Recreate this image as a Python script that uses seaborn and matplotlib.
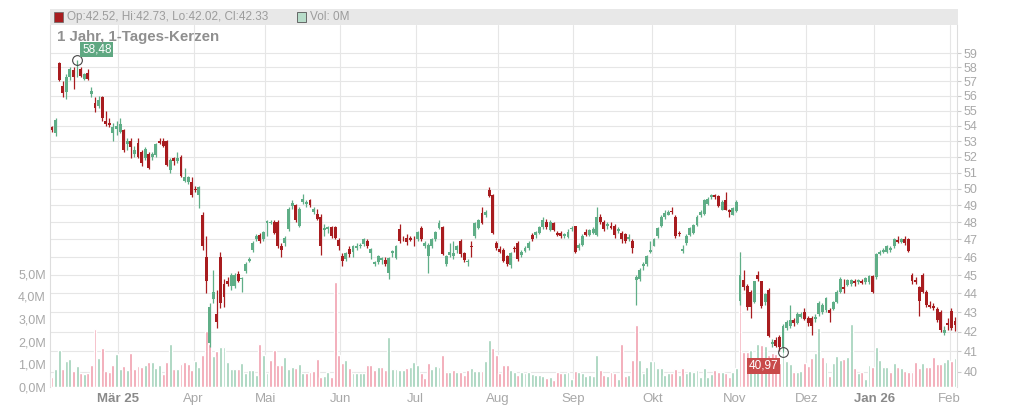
import numpy as np
import pandas as pd
import matplotlib
matplotlib.use("Agg")
import matplotlib.pyplot as plt
from matplotlib.patches import Rectangle
import seaborn as sns

sns.set_theme(style="white")
plt.rcParams['font.family'] = ['Liberation Sans', 'DejaVu Sans']

# trading days (Xetra holidays removed)
holidays = ['2025-04-18', '2025-04-21', '2025-05-01', '2025-12-24',
            '2025-12-25', '2025-12-26', '2025-12-31', '2026-01-01']
days = pd.bdate_range('2025-02-04', '2026-02-03')
days = days[~days.isin(pd.to_datetime(holidays))]

opens = [
    53.9, 53.5, 58.3, 56.7, 56.3, 57.3, 57.8, 57.7, 57.9, 57.2,
    57.6, 56.15, 55.5, 55.3, 55.9, 54.3, 54.2, 53.5, 53.8, 53.6,
    53.7, 52.8, 53.0, 52.2, 52.9, 52.3, 51.9, 52.2, 52.0, 52.1,
    53.0, 53.0, 53.0, 51.15, 51.9, 51.7, 52.0, 50.5, 50.4, 50.4,
    50.0, 49.6, 48.4, 46.0, 41.4, 43.7, 42.9, 46.0, 44.5, 44.7,
    44.4, 44.4, 45.05, 44.8, 45.2, 45.8, 46.4, 47.0, 47.25, 47.0,
    47.95, 47.98, 48.0, 48.0, 46.65, 46.8, 47.6, 48.95, 49.0, 47.8,
    49.2, 49.1, 49.3, 48.6, 48.5, 48.3, 47.55, 47.6, 47.7, 47.7,
    46.95, 46.05, 45.9, 46.45, 46.3, 46.5, 46.6, 46.75, 46.9, 46.2,
    45.6, 45.75, 45.85, 45.85, 45.1, 46.25, 45.95, 47.6, 47.05, 47.1,
    47.1, 47.05, 47.0, 47.65, 46.65, 46.05, 46.65, 47.0, 47.65, 47.7,
    45.6, 46.1, 46.05, 46.4, 46.9, 46.2, 45.75, 46.62, 47.2, 47.65,
    48.55, 48.4, 49.95, 49.6, 46.8, 46.45, 46.4, 46.05, 45.55, 46.52,
    46.8, 46.1, 46.35, 46.5, 47.25, 47.25, 47.35, 47.7, 48.0, 47.55,
    47.95, 47.4, 47.35, 47.2, 47.15, 47.6, 47.75, 46.5, 46.7, 47.45,
    47.25, 47.35, 47.25, 48.3, 48.0, 47.8, 47.8, 47.8, 47.5, 47.4,
    47.3, 47.05, 46.9, 44.75, 44.8, 45.5, 45.6, 46.3, 46.65, 47.2,
    47.8, 48.3, 48.45, 48.65, 48.3, 47.38, 46.35, 46.8, 47.25, 47.35,
    47.85, 48.4, 48.5, 49.1, 49.5, 49.6, 49.55, 48.75, 49.3, 48.7,
    48.45, 48.65, 43.6, 44.75, 44.4, 44.1, 43.55, 45.0, 44.65, 43.55,
    44.2, 41.35, 41.55, 41.7, 41.2, 42.2, 42.3, 42.6, 42.45, 42.75,
    43.0, 42.7, 42.7, 42.65, 42.9, 43.0, 43.1, 43.1, 43.15, 43.55,
    44.1, 44.35, 44.45, 44.5, 44.65, 44.6, 44.65, 44.6, 44.6, 44.95,
    44.9, 46.15, 46.3, 46.3, 46.4, 46.6, 46.95, 46.85, 47.05, 47.0,
    45.0, 44.75, 44.35, 45.0, 44.1, 43.4, 43.35, 43.15, 43.0, 41.95,
    42.45, 43.05, 42.52]

highs = [
    54.0, 54.5, 58.4, 57.0, 57.5, 58.0, 58.0, 58.48, 58.0, 57.6,
    57.9, 56.6, 55.9, 56.0, 56.0, 55.0, 54.5, 54.2, 54.3, 54.5,
    53.8, 53.2, 53.2, 52.7, 53.2, 52.4, 52.6, 52.3, 52.3, 52.9,
    53.2, 53.2, 53.1, 51.9, 52.0, 52.3, 52.1, 51.3, 50.8, 50.7,
    50.2, 50.2, 48.6, 47.2, 43.5, 45.3, 44.2, 46.3, 44.8, 44.9,
    45.1, 45.1, 45.2, 44.9, 45.7, 46.0, 46.9, 47.3, 47.4, 47.5,
    48.1, 48.1, 48.1, 48.1, 46.8, 47.2, 48.9, 49.3, 49.1, 48.9,
    49.7, 49.3, 49.4, 48.9, 48.8, 48.5, 47.9, 47.8, 47.8, 47.8,
    47.1, 46.2, 46.3, 46.6, 46.7, 46.8, 46.8, 47.1, 47.0, 46.5,
    45.8, 46.1, 46.0, 46.0, 46.0, 46.4, 46.7, 47.9, 47.2, 47.3,
    47.2, 47.2, 47.5, 47.8, 46.9, 46.8, 47.1, 47.5, 48.1, 47.8,
    46.1, 46.8, 46.9, 46.7, 47.0, 46.3, 45.9, 46.9, 48.0, 48.2,
    48.9, 48.7, 50.1, 49.7, 46.9, 46.6, 46.5, 46.1, 46.3, 46.6,
    46.9, 46.4, 46.6, 46.9, 47.4, 47.5, 47.8, 48.3, 48.2, 48.1,
    48.0, 47.5, 47.5, 47.4, 47.6, 47.8, 47.8, 46.8, 47.3, 47.6,
    47.6, 47.7, 48.9, 48.5, 48.1, 48.0, 48.0, 47.9, 47.7, 47.5,
    47.4, 47.3, 47.0, 45.0, 45.4, 45.7, 46.1, 46.9, 47.1, 47.7,
    48.4, 48.7, 48.7, 48.9, 48.4, 47.5, 46.7, 47.3, 47.7, 47.9,
    48.4, 48.7, 49.4, 49.5, 49.7, 49.7, 49.6, 49.3, 49.8, 48.8,
    48.9, 49.3, 46.3, 45.3, 44.5, 44.2, 44.7, 45.2, 44.7, 44.0,
    44.3, 41.6, 41.7, 41.8, 42.4, 42.6, 43.4, 42.7, 43.0, 43.0,
    43.2, 42.8, 42.8, 42.9, 43.6, 43.5, 43.8, 43.2, 43.6, 44.2,
    44.9, 44.8, 44.8, 44.8, 44.8, 44.8, 44.8, 44.9, 45.0, 45.0,
    46.2, 46.4, 46.5, 46.7, 46.6, 47.1, 47.2, 47.1, 47.2, 47.1,
    45.1, 44.9, 44.4, 45.1, 44.2, 43.6, 43.5, 43.3, 43.1, 42.3,
    42.7, 43.2, 42.73]

lows = [
    53.6, 53.3, 57.0, 55.9, 55.8, 57.1, 56.5, 57.3, 57.3, 57.1,
    57.1, 55.9, 54.9, 55.2, 54.3, 54.0, 53.9, 53.0, 53.4, 53.5,
    52.3, 52.4, 51.9, 52.0, 51.9, 51.4, 51.8, 51.2, 51.8, 52.0,
    52.8, 52.6, 51.4, 51.0, 51.5, 51.6, 50.7, 50.4, 50.3, 49.5,
    49.8, 48.85, 46.4, 44.0, 41.2, 43.5, 42.2, 43.2, 43.3, 44.4,
    44.2, 44.3, 44.6, 44.1, 45.1, 45.7, 46.3, 46.9, 46.8, 46.9,
    47.2, 47.9, 47.3, 46.5, 46.0, 46.6, 47.5, 48.8, 48.0, 47.7,
    49.1, 48.9, 48.9, 48.5, 48.1, 46.1, 47.2, 47.4, 47.1, 47.0,
    46.4, 45.5, 45.8, 46.0, 46.0, 46.4, 46.5, 46.6, 46.5, 45.9,
    45.5, 45.6, 45.6, 45.5, 44.8, 46.0, 45.9, 46.8, 46.9, 46.7,
    46.9, 46.6, 46.9, 46.9, 46.5, 45.1, 46.5, 46.9, 47.6, 46.1,
    45.5, 46.0, 45.9, 46.2, 46.0, 45.7, 45.5, 46.0, 47.1, 47.6,
    47.9, 48.3, 49.5, 47.3, 46.4, 46.2, 45.7, 45.5, 45.4, 46.3,
    45.8, 46.0, 46.3, 46.4, 46.9, 47.1, 47.3, 47.6, 47.6, 47.5,
    47.5, 47.2, 47.1, 47.1, 47.1, 47.5, 46.2, 46.4, 46.6, 47.2,
    47.2, 47.3, 47.2, 47.9, 47.5, 47.6, 47.6, 47.1, 47.4, 46.8,
    46.8, 46.9, 46.2, 43.4, 44.7, 45.3, 45.5, 46.2, 46.6, 47.1,
    47.7, 48.2, 48.4, 48.5, 47.1, 47.2, 46.2, 46.7, 47.2, 47.3,
    47.8, 48.3, 48.4, 49.0, 49.4, 49.4, 48.9, 48.7, 48.7, 48.3,
    48.4, 48.6, 43.4, 44.2, 43.1, 42.7, 43.5, 44.7, 43.2, 43.4,
    41.7, 41.2, 41.2, 41.0, 40.97, 42.1, 42.2, 42.3, 42.4, 42.7,
    42.6, 42.3, 41.8, 42.5, 42.8, 42.9, 43.0, 42.5, 43.1, 43.5,
    44.0, 44.0, 44.4, 44.4, 44.4, 44.5, 44.5, 44.5, 44.5, 44.0,
    44.8, 46.1, 46.2, 46.2, 46.3, 46.5, 46.8, 46.8, 46.7, 46.3,
    44.5, 44.5, 42.8, 44.0, 43.3, 43.2, 43.1, 42.5, 42.0, 41.8,
    42.1, 42.1, 42.02]

closes = [
    53.7, 54.4, 57.1, 56.2, 57.3, 57.9, 57.3, 57.75, 57.4, 57.5,
    57.2, 56.35, 55.2, 55.7, 54.5, 54.1, 54.05, 53.9, 54.0, 54.1,
    52.4, 53.0, 52.6, 52.4, 52.0, 51.6, 52.5, 51.3, 52.2, 52.8,
    52.9, 52.7, 51.5, 51.8, 51.7, 51.9, 50.8, 50.75, 50.7, 49.6,
    49.9, 50.1, 46.6, 44.7, 43.3, 44.1, 42.5, 43.5, 43.8, 44.5,
    45.0, 45.0, 44.7, 44.85, 45.6, 45.9, 46.8, 47.2, 46.9, 47.45,
    48.05, 48.02, 47.35, 46.6, 46.4, 47.1, 48.8, 49.15, 48.1, 48.8,
    49.4, 49.2, 49.0, 48.8, 48.2, 46.6, 47.65, 47.7, 47.2, 47.1,
    46.6, 45.8, 46.2, 46.15, 46.6, 46.65, 46.7, 47.0, 46.6, 46.45,
    45.7, 46.05, 45.95, 45.6, 45.95, 46.35, 46.6, 46.9, 47.0, 46.85,
    46.95, 47.0, 47.45, 47.0, 46.8, 46.7, 47.0, 47.45, 47.95, 46.15,
    46.05, 46.3, 46.2, 46.6, 46.15, 45.85, 45.8, 46.58, 47.95, 48.1,
    47.95, 48.6, 49.55, 47.35, 46.5, 46.3, 45.8, 45.6, 46.2, 46.48,
    45.9, 46.3, 46.5, 46.8, 47.05, 47.45, 47.7, 48.15, 47.7, 48.0,
    47.55, 47.25, 47.2, 47.3, 47.45, 47.68, 46.3, 46.7, 47.2, 47.25,
    47.55, 47.6, 48.3, 48.0, 47.6, 47.88, 47.65, 47.25, 47.58, 47.0,
    46.9, 47.12, 46.5, 44.9, 45.3, 45.62, 46.05, 46.38, 47.0, 47.65,
    48.3, 48.55, 48.6, 48.58, 47.2, 47.33, 46.45, 47.2, 47.65, 47.85,
    48.3, 48.6, 49.3, 49.4, 49.6, 49.5, 48.95, 49.2, 48.75, 48.6,
    48.85, 49.2, 45.0, 44.35, 43.3, 43.3, 44.65, 44.8, 43.35, 43.95,
    41.75, 41.45, 41.25, 41.2, 42.3, 42.5, 42.6, 42.45, 42.9, 42.9,
    42.65, 42.45, 42.3, 42.75, 43.5, 43.4, 43.75, 42.95, 43.55, 44.1,
    44.8, 44.25, 44.75, 44.75, 44.55, 44.72, 44.55, 44.85, 44.95, 44.1,
    46.15, 46.3, 46.4, 46.6, 46.5, 47.0, 46.87, 47.0, 46.8, 46.35,
    44.65, 44.6, 43.6, 44.1, 43.4, 43.3, 43.2, 42.6, 42.1, 42.1,
    42.35, 42.2, 42.33]

# volume in millions
volumes = [
    0.46, 0.78, 1.64, 0.78, 1.17, 1.22, 0.72, 0.93, 0.6, 0.58,
    0.63, 0.96, 2.58, 1.28, 1.73, 0.71, 0.68, 0.97, 1.48, 0.78,
    0.93, 0.75, 1.49, 0.8, 0.94, 0.9, 0.96, 1.09, 1.12, 0.84,
    0.96, 0.58, 1.1, 1.89, 0.78, 0.8, 1.03, 1.09, 1.02, 0.75,
    1.17, 0.9, 1.4, 2.48, 1.9, 1.35, 1.6, 1.75, 1.75, 1.1,
    0.78, 0.78, 0.78, 1.08, 0.6, 0.75, 0.75, 0.53, 1.9, 1.43,
    0.6, 1.2, 1.62, 0.97, 0.97, 1.31, 0.78, 0.9, 0.83, 1.02,
    0.6, 0.6, 0.68, 0.72, 1.22, 0.43, 0.49, 0.68, 0.46, 4.66,
    1.42, 1.08, 1.2, 0.83, 0.63, 0.63, 0.63, 0.63, 0.97, 0.97,
    0.75, 0.87, 0.87, 0.75, 2.2, 0.78, 0.78, 0.75, 0.75, 0.85,
    0.9, 1.12, 0.97, 0.6, 0.38, 1.05, 0.78, 0.93, 0.9, 1.42,
    0.68, 0.68, 0.75, 0.68, 0.68, 0.53, 0.75, 0.83, 0.72, 0.72,
    0.72, 1.15, 2.08, 1.71, 1.42, 0.6, 0.97, 0.97, 0.75, 0.68,
    0.53, 0.68, 0.63, 0.68, 0.56, 0.53, 0.53, 0.49, 0.38, 0.43,
    0.31, 0.68, 0.6, 0.63, 0.68, 0.34, 0.72, 0.68, 0.6, 0.5,
    0.55, 0.49, 1.42, 0.75, 0.53, 0.49, 0.66, 0.63, 0.34, 1.89,
    0.49, 0.53, 1.2, 2.74, 1.2, 0.6, 0.9, 1.17, 1.17, 0.83,
    0.83, 0.53, 0.6, 0.6, 0.78, 0.53, 0.83, 0.63, 0.72, 0.68,
    0.75, 0.46, 0.83, 0.46, 0.58, 0.75, 0.68, 0.68, 0.63, 0.46,
    0.68, 0.83, 6.0, 1.56, 1.56, 1.64, 1.2, 1.9, 1.86, 1.8,
    1.42, 1.49, 1.45, 1.05, 2.26, 1.17, 1.02, 0.68, 0.68, 0.72,
    1.05, 0.93, 1.27, 1.49, 2.6, 1.31, 1.12, 0.49, 1.05, 1.37,
    1.2, 1.23, 1.34, 2.79, 0.83, 0.63, 0.68, 0.34, 0.97, 0.9,
    1.78, 1.2, 0.9, 0.9, 0.68, 1.05, 0.9, 0.83, 0.72, 0.68,
    0.68, 1.12, 0.83, 1.08, 0.9, 0.87, 1.31, 1.02, 1.02, 1.12,
    1.22, 1.15, 1.28]

month_labels = ['Mär 25', 'Apr', 'Mai', 'Jun', 'Jul', 'Aug', 'Sep',
                'Okt', 'Nov', 'Dez', 'Jan 26', 'Feb']
price_ticks = list(range(40, 60))
vol_ticks = [0, 1, 2, 3, 4, 5]

for name, arr in [('opens', opens), ('highs', highs), ('lows', lows),
                  ('closes', closes), ('volumes', volumes)]:
    if len(arr) != len(days):
        raise ValueError(f"{name}: {len(arr)} != {len(days)}")

df = pd.DataFrame({'date': days, 'open': opens, 'high': highs,
                   'low': lows, 'close': closes, 'volume': volumes})
df['idx'] = np.arange(len(df))
df['vdir'] = np.where(df['close'].diff() >= 0, 'up', 'down')

RED = '#a81c1f'
GREEN = '#5fae87'
VOL_UP = '#9fd0b7'
VOL_DN = '#f19fae'
GRID = '#e6e6e6'
TXT = '#a8a8a8'

fig = plt.figure(figsize=(10.24, 4.09), dpi=100)
rect = [50 / 1024, 22 / 409, 907 / 1024, 362 / 409]
xlim = (-0.56, len(df) - 1 + 0.56)

# background: price scale + grid
ax_bg = fig.add_axes(rect, label='bg')
ax_bg.set_yscale('log')
ax_bg.set_ylim(39.25, 61.07)
ax_bg.set_xlim(*xlim)
ax_bg.yaxis.tick_right()
ax_bg.set_yticks(price_ticks)
ax_bg.set_yticklabels([str(p) for p in price_ticks])
ax_bg.yaxis.set_minor_locator(matplotlib.ticker.NullLocator())
ax_bg.tick_params(axis='y', which='major', direction='out', length=3,
                  width=0.8, color='#cccccc', labelcolor=TXT,
                  labelsize=9, pad=2, left=False, right=True)

month_starts = df.groupby(df['date'].dt.to_period('M'))['idx'].min()
month_starts = month_starts.iloc[1:].values - 0.5
ax_bg.set_xticks(month_starts)
ax_bg.set_xticklabels(month_labels)
ax_bg.tick_params(axis='x', length=0, labelsize=9.5, labelcolor=TXT, pad=4)
for lbl in ax_bg.get_xticklabels():
    if lbl.get_text() in ('Mär 25', 'Jan 26'):
        lbl.set_fontweight('bold')
        lbl.set_color('#8a8a8a')
ax_bg.grid(True, which='major', color=GRID, lw=0.8)
for side in ['top', 'bottom']:
    ax_bg.spines[side].set_visible(False)
for side in ['left', 'right']:
    ax_bg.spines[side].set_color('#dddddd')
    ax_bg.spines[side].set_linewidth(0.8)

# volume bars
ax_v = fig.add_axes(rect, label='vol')
ax_v.patch.set_visible(False)
sns.barplot(data=df, x='idx', y='volume', hue='vdir',
            palette={'up': VOL_UP, 'down': VOL_DN}, native_scale=True,
            width=0.82, dodge=False, saturation=1, legend=False, ax=ax_v)
ax_v.set_xlim(*xlim)
ax_v.set_ylim(0, 16)
ax_v.set_yticks(vol_ticks)
ax_v.set_yticklabels([f"{v:.1f}M".replace('.', ',') for v in vol_ticks])
ax_v.tick_params(axis='y', direction='in', length=3, width=0.8,
                 color='#cccccc', labelcolor=TXT, labelsize=9, pad=3)
ax_v.tick_params(axis='x', bottom=False, labelbottom=False)
ax_v.set_xlabel('')
ax_v.set_ylabel('')
for s in ax_v.spines.values():
    s.set_visible(False)

# candles
ax_c = fig.add_axes(rect, label='candles')
ax_c.patch.set_visible(False)
ax_c.set_yscale('log')
ax_c.set_ylim(39.25, 61.07)
ax_c.set_xlim(*xlim)
up = df['close'] >= df['open']
colors = np.where(up, GREEN, RED)
ax_c.vlines(df['idx'], df['low'], df['high'], colors=colors, lw=0.9)
body_lo = np.minimum(df['open'], df['close'])
body_h = np.maximum((df['close'] - df['open']).abs(), 0.05)
ax_c.bar(df['idx'], body_h, bottom=body_lo, width=0.8, color=colors, lw=0)
ax_c.set_xticks([])
ax_c.set_yticks([])
ax_c.yaxis.set_minor_locator(matplotlib.ticker.NullLocator())
for s in ax_c.spines.values():
    s.set_visible(False)

# high / low markers
hi_i = int(df['high'].idxmax())
lo_i = int(df['low'].idxmin())
hi_v = df['high'].max()
lo_v = df['low'].min()
ax_c.plot([hi_i, lo_i], [hi_v, lo_v], 'o', ms=7, mfc='none',
          mec='#444444', mew=0.8)
ax_c.annotate(f"{hi_v:.2f}".replace('.', ','), (hi_i, hi_v),
              xytext=(5, 5), textcoords='offset pixels', ha='left',
              va='bottom', color='white', fontsize=8.5,
              bbox=dict(boxstyle='square,pad=0.15', fc='#5fa882', ec='none'))
ax_c.annotate(f"{lo_v:.2f}".replace('.', ','), (lo_i, lo_v),
              xytext=(-5, -8), textcoords='offset pixels', ha='right',
              va='top', color='white', fontsize=8.5,
              bbox=dict(boxstyle='square,pad=0.15', fc='#c84a4a', ec='none'))

# header bar
fig.add_artist(Rectangle((50 / 1024, 1 - 24.5 / 409), 908 / 1024, 15 / 409,
                         transform=fig.transFigure, fc='#e8e8e8', ec='none'))
fig.add_artist(Rectangle((54 / 1024, 1 - 21.5 / 409), 9 / 1024, 9 / 409,
                         transform=fig.transFigure, fc=RED, ec='#666666', lw=0.5))
last = df.iloc[-1]
fig.text(67 / 1024, 1 - 17 / 409,
         f"Op:{last['open']:.2f}, Hi:{last['high']:.2f}, "
         f"Lo:{last['low']:.2f}, Cl:{last['close']:.2f}",
         va='center', ha='left', fontsize=8.5, color='#9c9c9c')
fig.add_artist(Rectangle((297 / 1024, 1 - 21.5 / 409), 9 / 1024, 9 / 409,
                         transform=fig.transFigure, fc='#b7dcc9', ec='#555555', lw=0.6))
fig.text(310 / 1024, 1 - 17 / 409, "Vol: 0M", va='center', ha='left',
         fontsize=8.5, color='#9c9c9c')

fig.text(57 / 1024, 1 - 36.5 / 409, "1 Jahr, 1-Tages-Kerzen", va='center',
         ha='left', fontsize=10.8, fontweight='bold', color='#8f8f8f')

fig.savefig('out.png', dpi=100)
